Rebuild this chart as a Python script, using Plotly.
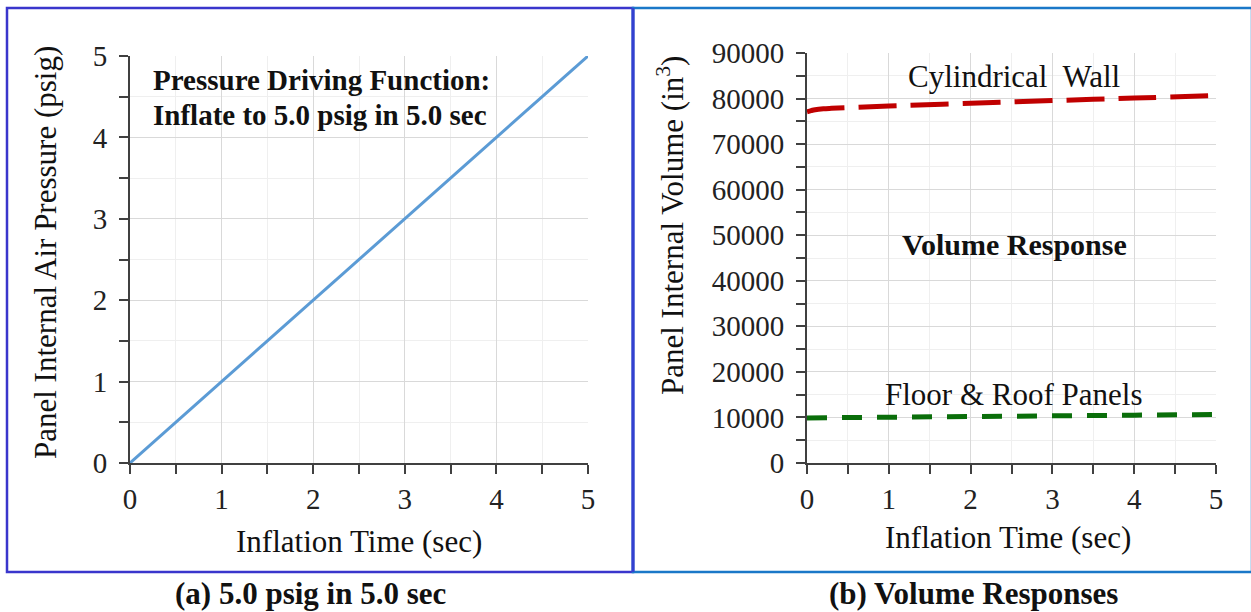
import plotly.graph_objects as go

# ---- data ----
time_a = [0, 1, 2, 3, 4, 5]
pressure_a = [0, 1, 2, 3, 4, 5]

time_b = [0, 0.05, 0.1, 0.2, 0.3, 0.5, 1, 2, 3, 4, 5]
cyl_wall = [77100, 77350, 77550, 77750, 77850, 78000, 78350, 78950, 79550, 80100, 80700]
floor_roof = [9900, 9910, 9920, 9935, 9950, 9980, 10050, 10200, 10350, 10500, 10650]

x_ticks = [0, 1, 2, 3, 4, 5]
y_ticks_a = [0, 1, 2, 3, 4, 5]
y_ticks_b = [0, 10000, 20000, 30000, 40000, 50000, 60000, 70000, 80000, 90000]

W, H = 1251, 612
FONT = "Liberation Serif"
TICKF = 29
TITLEF = 31

def px_x(p):
    return p / W

def px_y(p):
    return 1 - p / H

fig = go.Figure()

fig.add_trace(go.Scatter(x=time_a, y=pressure_a, mode="lines",
                         line=dict(color="#5b9bd5", width=3),
                         xaxis="x", yaxis="y", showlegend=False))
fig.add_trace(go.Scatter(x=time_b, y=cyl_wall, mode="lines",
                         line=dict(color="#c00000", width=5, dash="38px,14px", shape="spline"),
                         xaxis="x2", yaxis="y2", showlegend=False))
fig.add_trace(go.Scatter(x=time_b, y=floor_roof, mode="lines",
                         line=dict(color="#0a6e0a", width=5, dash="20px,15px"),
                         xaxis="x2", yaxis="y2", showlegend=False))

axis_common = dict(
    showline=True, linecolor="#404040", linewidth=2,
    ticks="outside", ticklen=9, tickwidth=2, tickcolor="#404040",
    showgrid=True, gridcolor="#d9d9d9", gridwidth=1,
    zeroline=False, automargin=False,
    tickfont=dict(family=FONT, size=TICKF, color="#222222"),
)

minor_common = dict(ticks="outside", ticklen=9, tickwidth=2,
                    tickcolor="#404040", showgrid=True, gridcolor="#efefef")

fig.update_layout(
    width=W, height=H,
    margin=dict(l=0, r=0, t=0, b=0, pad=0, autoexpand=False),
    font=dict(family=FONT),
    paper_bgcolor="white", plot_bgcolor="white",
    xaxis=dict(domain=[px_x(130), px_x(588)], range=[0, 5], anchor="y",
               tickvals=x_ticks, minor=dict(dtick=0.5, tick0=0, **minor_common),
               ticklabelstandoff=0, **axis_common),
    yaxis=dict(domain=[px_y(463), px_y(56)], range=[0, 5], anchor="x",
               tickvals=y_ticks_a, minor=dict(dtick=0.5, tick0=0, **minor_common),
               ticklabelstandoff=6, **axis_common),
    xaxis2=dict(domain=[px_x(807), px_x(1216)], range=[0, 5], anchor="y2",
                tickvals=x_ticks, minor=dict(dtick=0.5, tick0=0, **minor_common),
                ticklabelstandoff=0, **axis_common),
    yaxis2=dict(domain=[px_y(463), px_y(53)], range=[0, 90000], anchor="x2",
                tickvals=y_ticks_b, tickformat="d",
                minor=dict(dtick=5000, tick0=0, **minor_common),
                ticklabelstandoff=6, **axis_common),
)

def ann(text, x, y, size, bold=False, angle=0, xanchor="center", align="center"):
    t = f"<b>{text}</b>" if bold else text
    fig.add_annotation(text=t, x=px_x(x), y=px_y(y), xref="paper", yref="paper",
                       showarrow=False, textangle=angle, xanchor=xanchor, yanchor="middle",
                       align=align,
                       font=dict(family=FONT, size=size, color="#111111"))

# axis titles
ann("Panel Internal Air Pressure (psig)", 46, 253, TITLEF, angle=-90)
ann("Inflation Time (sec)", 359, 541, TITLEF)
ann("Panel Internal Volume (in<sup>3</sup>)", 670, 226, TITLEF, angle=-90)
ann("Inflation Time (sec)", 1008, 537, TITLEF)

# in-plot labels
ann("Pressure Driving Function:", 151, 80, 29, bold=True, xanchor="left")
ann("Inflate to 5.0 psig in 5.0 sec", 151, 115, 29, bold=True, xanchor="left")
ann("Volume Response", 1014, 244, 30, bold=True)
ann("Cylindrical&nbsp; Wall", 1014, 76, TITLEF)
ann("Floor &amp; Roof Panels", 1013, 394, TITLEF)

# captions
ann("(a) 5.0 psig in 5.0 sec", 310, 593, 31, bold=True)
ann("(b) Volume Responses", 973, 593, 31, bold=True)

# panel borders
fig.add_shape(type="rect", xref="paper", yref="paper",
              x0=px_x(7), x1=px_x(633), y0=px_y(572), y1=px_y(8),
              line=dict(color="#3a36cc", width=2.5))
fig.add_shape(type="rect", xref="paper", yref="paper",
              x0=px_x(633), x1=px_x(1252), y0=px_y(572), y1=px_y(8),
              line=dict(color="#1a78c8", width=2.5))
fig.add_shape(type="line", xref="paper", yref="paper",
              x0=px_x(633), x1=px_x(633), y0=px_y(572), y1=px_y(8),
              line=dict(color="#3340d0", width=3))

fig.write_html("out.html")
